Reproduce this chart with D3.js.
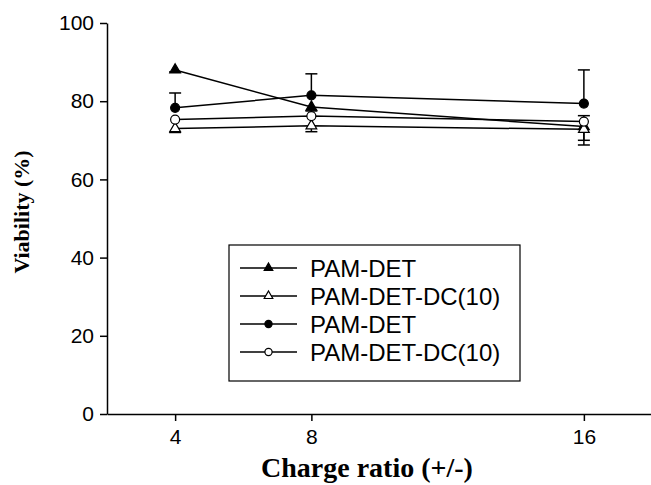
<!DOCTYPE html>
<html><head><meta charset="utf-8">
<script src="https://cdn.jsdelivr.net/npm/d3@7"></script>
<style>body{margin:0;background:#fff}</style>
</head><body>
<script>
const ratios = [4, 8, 16];
const seriesNames = ["PAM-DET", "PAM-DET-DC(10)", "PAM-DET", "PAM-DET-DC(10)"];
const symbols = ["triFilled", "triOpen", "circFilled", "circOpen"];
const valsTriFilled = [88, 78.5, 73.5];
const valsTriOpen = [73, 73.7, 72.8];
const valsCircFilled = [78.3, 81.5, 79.4];
const valsCircOpen = [75.3, 76.2, 74.8];
const errUpTriFilled = [0, 0, 0];
const errDownTriFilled = [0.5, 1, 3.5];
const errUpTriOpen = [0, 0, 0];
const errDownTriOpen = [1, 1.5, 4];
const errUpCircFilled = [3.8, 5.5, 8.6];
const errDownCircFilled = [0, 0, 0];
const errUpCircOpen = [0, 0, 1.5];
const errDownCircOpen = [0, 0, 0];
const yTicks = [0, 20, 40, 60, 80, 100];

const series = [
  {name: seriesNames[0], sym: symbols[0], v: valsTriFilled, up: errUpTriFilled, dn: errDownTriFilled},
  {name: seriesNames[1], sym: symbols[1], v: valsTriOpen, up: errUpTriOpen, dn: errDownTriOpen},
  {name: seriesNames[2], sym: symbols[2], v: valsCircFilled, up: errUpCircFilled, dn: errDownCircFilled},
  {name: seriesNames[3], sym: symbols[3], v: valsCircOpen, up: errUpCircOpen, dn: errDownCircOpen}
];

const W = 651, H = 485;
const svg = d3.select("body").append("svg").attr("width", W).attr("height", H);
const x = d3.scaleLinear().domain([2, 18]).range([107, 652]);
const y = d3.scaleLinear().domain([0, 100]).range([414, 23]);

const tickFont = "Liberation Sans, Arial, sans-serif";
const gx = svg.append("g").attr("transform", "translate(0,414)")
  .call(d3.axisBottom(x).tickValues(ratios).tickSize(7).tickSizeOuter(0).tickPadding(8));
const gy = svg.append("g").attr("transform", "translate(107,0)")
  .call(d3.axisLeft(y).tickValues(yTicks).tickSize(7).tickSizeOuter(0).tickPadding(6));
[gx, gy].forEach(g => {
  g.selectAll("path,line").attr("stroke", "#000").attr("stroke-width", 1.5);
  g.selectAll("text").attr("font-family", tickFont).attr("font-size", 21).attr("fill", "#000");
});

function marker(g, sym, cx, cy, sc) {
  if (sym.startsWith("tri")) {
    g.append("path").attr("d", d3.symbol(d3.symbolTriangle, 50 * sc * sc)())
      .attr("transform", `translate(${cx},${cy})`)
      .attr("fill", sym === "triFilled" ? "#000" : "#fff").attr("stroke", "#000").attr("stroke-width", 1.2);
  } else {
    g.append("circle").attr("cx", cx).attr("cy", cy).attr("r", 4.5 * sc)
      .attr("fill", sym === "circFilled" ? "#000" : "#fff").attr("stroke", "#000").attr("stroke-width", 1.2);
  }
}

const plot = svg.append("g");
const line = d3.line().x((d, i) => x(ratios[i])).y(d => y(d));
series.forEach(s => {
  plot.append("path").attr("d", line(s.v)).attr("fill", "none").attr("stroke", "#000").attr("stroke-width", 1.5);
});
series.forEach(s => {
  s.v.forEach((v, i) => {
    const cx = x(ratios[i]);
    [[s.up[i], 1], [s.dn[i], -1]].forEach(([e, dir]) => {
      if (e > 0) {
        const yy = y(v + dir * e);
        plot.append("line").attr("x1", cx).attr("x2", cx).attr("y1", y(v)).attr("y2", yy)
          .attr("stroke", "#000").attr("stroke-width", 1.5);
        plot.append("line").attr("x1", cx - 6).attr("x2", cx + 6).attr("y1", yy).attr("y2", yy)
          .attr("stroke", "#000").attr("stroke-width", 1.5);
      }
    });
  });
});
series.forEach(s => {
  s.v.forEach((v, i) => marker(plot, s.sym, x(ratios[i]), y(v), 1));
});

// legend
const lg = svg.append("g");
lg.append("rect").attr("x", 229).attr("y", 245).attr("width", 291).attr("height", 136)
  .attr("fill", "#fff").attr("stroke", "#000").attr("stroke-width", 1.2);
series.forEach((s, i) => {
  const ly = 268 + i * 28;
  lg.append("line").attr("x1", 240).attr("x2", 297).attr("y1", ly).attr("y2", ly)
    .attr("stroke", "#000").attr("stroke-width", 1.3);
  marker(lg, s.sym, 268.5, ly, 0.8);
  lg.append("text").attr("x", 310).attr("y", ly).attr("dy", "0.36em")
    .attr("font-family", tickFont).attr("font-size", 24).text(s.name);
});

svg.append("text").attr("x", 367).attr("y", 477).attr("text-anchor", "middle")
  .attr("font-family", "Liberation Serif, Times New Roman, serif").attr("font-weight", "bold")
  .attr("font-size", 28).text("Charge ratio (+/-)");
svg.append("text").attr("transform", "translate(29,212) rotate(-90)").attr("text-anchor", "middle")
  .attr("font-family", "Liberation Serif, Times New Roman, serif").attr("font-weight", "bold")
  .attr("font-size", 22).text("Viability (%)");
</script>
</body></html>
